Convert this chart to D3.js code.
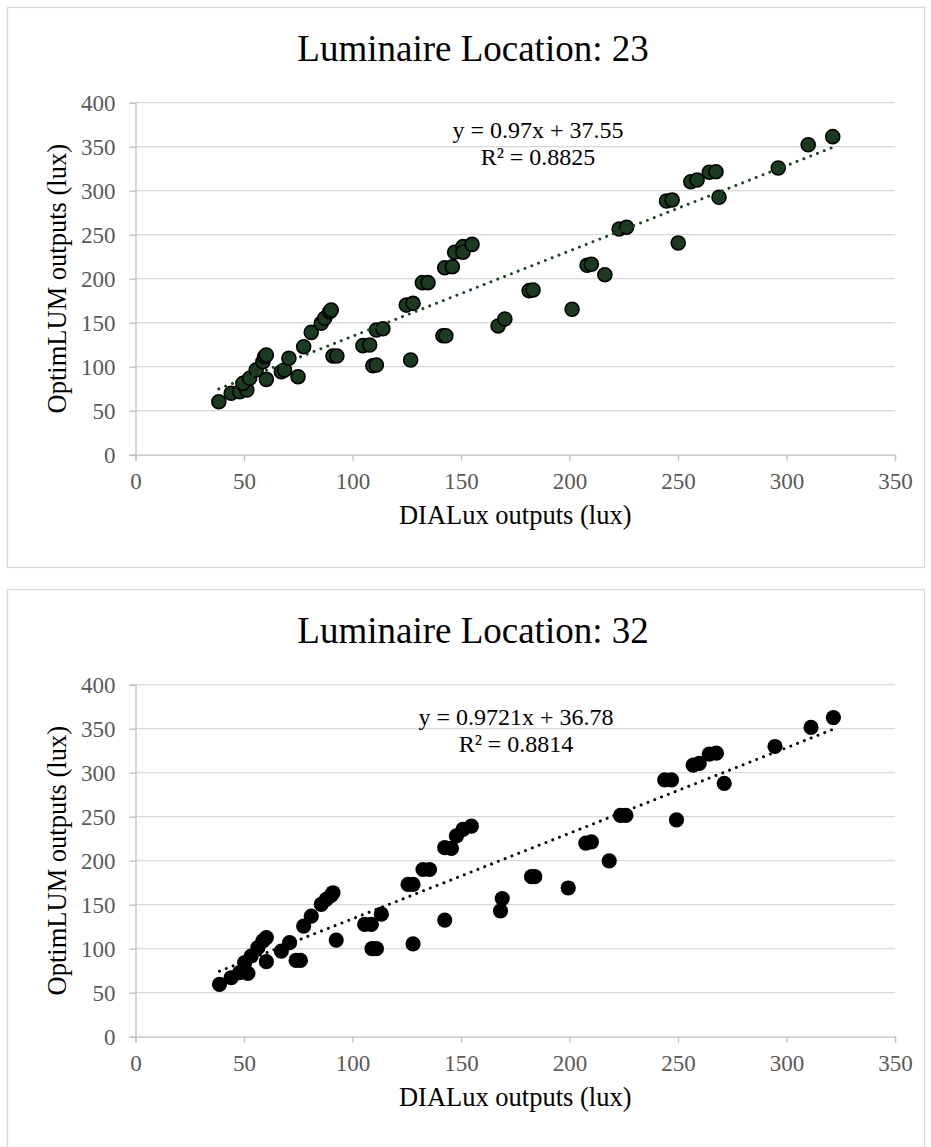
<!DOCTYPE html>
<html>
<head>
<meta charset="utf-8">
<script src="https://cdn.jsdelivr.net/npm/d3@7"></script>
<style>
  html, body { margin: 0; padding: 0; background: #fff; }
  svg { display: block; }
  text { font-family: "Liberation Serif", "DejaVu Serif", "Times New Roman", serif; }
</style>
</head>
<body>
<svg id="chart" width="931" height="1147"></svg>
<script>
const SERIF = '"Liberation Serif", "DejaVu Serif", "Times New Roman", serif';

// Luminaire location 23: DIALux vs OptimLUM illuminance (lux)
const loc23X = [38.4, 44.1, 48, 51.3, 49.5, 52.6, 55.6, 58.7, 59.5, 60.3, 60.3, 67.2, 68.7, 70.7, 74.9,
  77.5, 81, 85.6, 87.2, 89.5, 90.2, 91, 92.8, 104.8, 107.9, 109.4, 111, 111, 114, 126.8,
  124.8, 127.9, 132.2, 134.8, 141.7, 143, 142.5, 146, 147.1, 150.9, 150.9, 155.1, 167.1, 170.2,
  181.4, 183.2, 201.2, 208.1, 210.1, 216.3, 222.9, 226.3, 244.7, 247.3, 250.1, 255.9, 258.8,
  264.4, 267.5, 268.9, 296.2, 310, 321.3];
const loc23Y = [60.2, 69.8, 71.6, 73.5, 81, 86.8, 96.2, 105.7, 111.4, 113.3, 85.6, 94.3, 96.2, 109.5, 88.6,
  122.7, 139, 149.3, 155, 162.5, 164.4, 112.2, 112.2, 123.9, 124.7, 101.1, 101.9, 141.7, 143.2, 107.6,
  170, 172, 195.5, 195.5, 135.2, 135.2, 212.5, 213.6, 230, 236.4, 230, 239, 146.3, 154.2,
  186.4, 187.2, 165.2, 215.2, 216.4, 204.5, 256.5, 258.4, 288.3, 289.4, 240.6, 310.2, 312.2,
  321, 321.6, 292.5, 325.8, 352.3, 361.4];

// Luminaire location 32
const loc32X = [38.7, 44.1, 48, 51.8, 50.3, 53.3, 56.4, 58.7, 60.3, 60.3, 67.2, 71, 74, 76,
  77.5, 81, 85.6, 87.9, 90.2, 91, 92.5, 105.6, 108.7, 109, 111, 113.3, 127.9, 125.6, 127.9,
  132.5, 135.5, 142.5, 142.5, 145.6, 147.9, 150.9, 154.8, 168.2, 169, 182.5, 184, 199.4,
  207.5, 210.1, 218.3, 223.5, 226, 243.9, 247, 249.3, 257, 259.8, 264.4, 267.7, 271.3,
  294.7, 311.3, 321.6];
const loc32Y = [59.5, 67, 72.7, 72, 84.1, 91.7, 101.2, 108.8, 112.6, 85.2, 97.3, 106.8, 86.7, 86.7,
  125.7, 137, 150.3, 156, 160.6, 163.6, 109.8, 127.6, 127.6, 100, 100, 139.2, 105.4, 173, 173,
  190, 190, 132.5, 214.8, 214, 228.1, 235.7, 239.4, 143, 157, 181.8, 181.8, 169,
  220, 221.5, 199.7, 251.5, 251.5, 291.8, 291.8, 246.5, 308.6, 310.6, 321, 322.2, 287.8,
  329.8, 351.5, 362.6];

// Linear trendline coefficients and their printed labels
const chartTitles = ["Luminaire Location: 23", "Luminaire Location: 32"];
const trendSlopes = [0.97, 0.9721];
const trendIntercepts = [37.55, 36.78];
const equationLabels = ["y = 0.97x + 37.55", "y = 0.9721x + 36.78"];
const r2Labels = ["R² = 0.8825", "R² = 0.8814"];

const xTicks = [0, 50, 100, 150, 200, 250, 300, 350];
const yTicks = [0, 50, 100, 150, 200, 250, 300, 350, 400];
const xAxisTitle = "DIALux outputs (lux)";
const yAxisTitle = "OptimLUM outputs (lux)";

const panels = [
  { x: loc23X, y: loc23Y, top: 7, fill: "#1b3b20", stroke: "#000", strokeW: 1.6, r: 7, trend: "#1c4624", eqX: 538 },
  { x: loc32X, y: loc32Y, top: 589, fill: "#000", stroke: "none", strokeW: 0, r: 7.6, trend: "#000", eqX: 516 }
];

const svg = d3.select("#chart");

panels.forEach((p, i) => {
  const g = svg.append("g").attr("transform", `translate(0,${p.top})`);

  // chart frame
  g.append("rect")
    .attr("x", 7.5).attr("y", 0.5)
    .attr("width", 917).attr("height", 560)
    .attr("fill", "#fff").attr("stroke", "#d9d9d9").attr("stroke-width", 1.3);

  const x = d3.scaleLinear().domain([0, 350]).range([135.5, 895]);
  const y = d3.scaleLinear().domain([0, 400]).range([447.7, 95.7]);

  // horizontal gridlines
  g.append("g").selectAll("line")
    .data(yTicks.filter(t => t > 0))
    .join("line")
    .attr("x1", x(0)).attr("x2", x(350))
    .attr("y1", d => y(d)).attr("y2", d => y(d))
    .attr("stroke", "#d9d9d9").attr("stroke-width", 1.3);

  // y axis
  const yAxis = g.append("g")
    .attr("transform", `translate(${x(0)},0)`)
    .call(d3.axisLeft(y).tickValues(yTicks).tickSize(6).tickPadding(14).tickFormat(d3.format("d")));
  // x axis
  const xAxis = g.append("g")
    .attr("transform", `translate(0,${y(0)})`)
    .call(d3.axisBottom(x).tickValues(xTicks).tickSize(6).tickPadding(12).tickFormat(d3.format("d")));

  [xAxis, yAxis].forEach(ax => {
    ax.attr("font-family", SERIF).attr("font-size", 23);
    ax.select(".domain").attr("stroke", "#bfbfbf").attr("stroke-width", 1.3);
    ax.selectAll(".tick line").attr("stroke", "#bfbfbf").attr("stroke-width", 1.3);
    ax.selectAll(".tick text")
      .attr("fill", "#595959")
      .style("font-family", SERIF)
      .style("font-size", "23px");
  });

  // title
  g.append("text")
    .attr("x", 473).attr("y", 53.7)
    .attr("text-anchor", "middle")
    .attr("fill", "#000")
    .style("font-family", SERIF)
    .style("font-size", "37px")
    .text(chartTitles[i]);

  // axis titles
  g.append("text")
    .attr("x", (x(0) + x(350)) / 2).attr("y", 517)
    .attr("text-anchor", "middle")
    .attr("fill", "#000")
    .style("font-family", SERIF)
    .style("font-size", "26.5px")
    .text(xAxisTitle);

  g.append("text")
    .attr("transform", `translate(66,${(y(0) + y(400)) / 2}) rotate(-90)`)
    .attr("text-anchor", "middle")
    .attr("fill", "#000")
    .style("font-family", SERIF)
    .style("font-size", "26.5px")
    .text(yAxisTitle);

  // scatter markers
  const pts = p.x.map((v, k) => [v, p.y[k]]);
  g.append("g").selectAll("circle")
    .data(pts)
    .join("circle")
    .attr("cx", d => x(d[0]))
    .attr("cy", d => y(d[1]))
    .attr("r", p.r)
    .attr("fill", p.fill)
    .attr("stroke", p.stroke)
    .attr("stroke-width", p.strokeW);

  // dotted linear trendline across the data range
  const [xmin, xmax] = d3.extent(p.x);
  const f = v => trendSlopes[i] * v + trendIntercepts[i];
  g.append("line")
    .attr("x1", x(xmin)).attr("y1", y(f(xmin)))
    .attr("x2", x(xmax)).attr("y2", y(f(xmax)))
    .attr("stroke", p.trend)
    .attr("stroke-width", 3)
    .attr("stroke-linecap", "round")
    .attr("stroke-dasharray", "0.01 7.3");

  // trendline equation and R²
  const eqBase = i === 0 ? 131.3 : 136;
  [equationLabels[i], r2Labels[i]].forEach((t, k) => {
    g.append("text")
      .attr("x", p.eqX).attr("y", eqBase + k * 26.7)
      .attr("text-anchor", "middle")
      .attr("fill", "#000")
      .style("font-family", SERIF)
      .style("font-size", "24px")
      .text(t);
  });
});
</script>
</body>
</html>
